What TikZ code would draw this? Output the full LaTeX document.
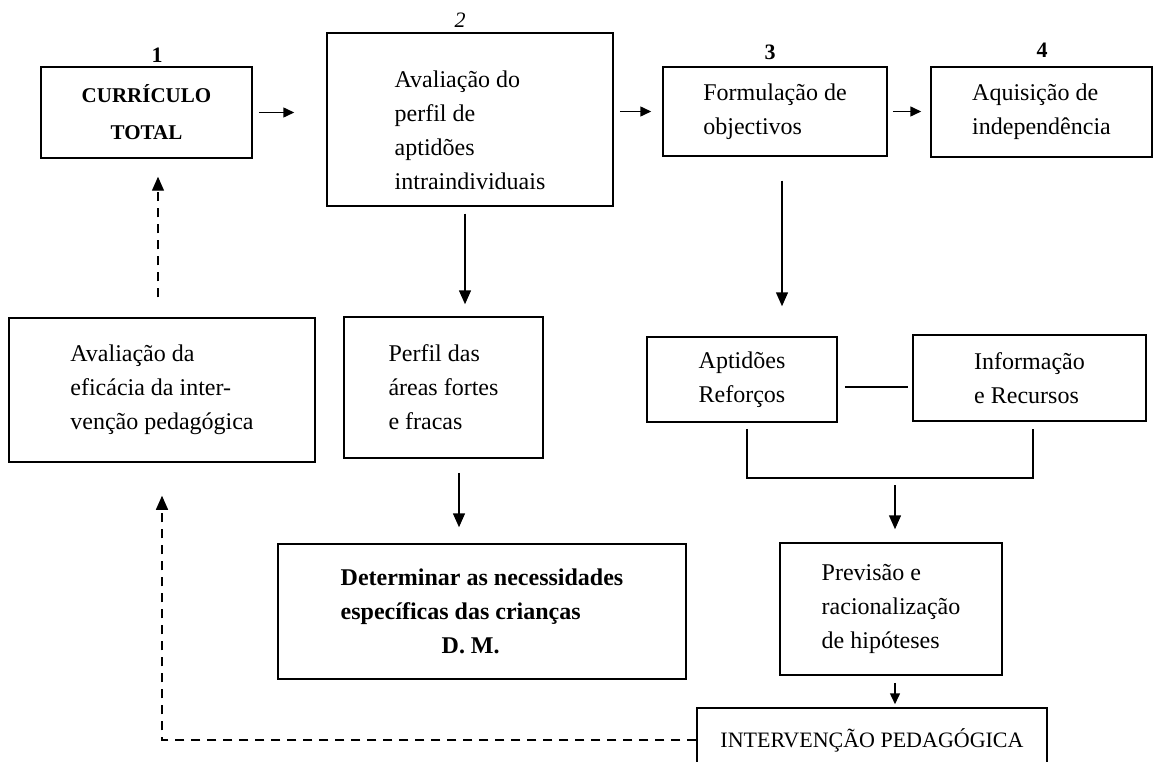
\documentclass[tikz,border=0pt]{standalone}
\usepackage{fontspec}
\setmainfont{Liberation Serif}
\usetikzlibrary{arrows.meta}
\begin{document}
\begin{tikzpicture}[x=1pt,y=-1pt,
  box/.style={draw, line width=1.5pt, rectangle, inner sep=0pt, align=left, font=\fontsize{24}{34}\selectfont},
  tip/.style={-{Triangle[length=11pt,width=10pt]}},
  bigtip/.style={-{Triangle[length=14pt,width=12pt]}},
  arr/.style={line width=1.5pt, tip},
  varr/.style={line width=1.5pt, bigtip},
  plain/.style={line width=1.4pt},
  dsh/.style={line width=1.3pt, dash pattern=on 9pt off 7pt},
  num/.style={font=\fontsize{22}{26}\selectfont\bfseries, inner sep=0pt}]
\useasboundingbox (0,0) rectangle (1156,762);
\clip (0,0) rectangle (1156,762);

% boxes
\node[box, minimum width=211pt, minimum height=91pt, align=center, font=\fontsize{21}{37}\selectfont\bfseries] (B1) at (146.5,112.5) {CURRÍCULO\\TOTAL};
\node[box, minimum width=286pt, minimum height=173pt] (B2) at (470,119.5) {\rule{0pt}{38pt}Avaliação do\\perfil de\\aptidões\\intraindividuais};
\node[box, minimum width=224pt, minimum height=89pt] (B3) at (775,111.5) {Formulação de\\objectivos};
\node[box, minimum width=221pt, minimum height=90pt] (B4) at (1041.5,112) {Aquisição de\\independência};
\node[box, minimum width=306pt, minimum height=144pt] (B5) at (162,390) {Avaliação da\\eficácia da inter-\\venção pedagógica};
\node[box, minimum width=199pt, minimum height=141pt] (B6) at (443.5,387.5) {Perfil das\\áreas fortes\\e fracas};
\node[box, minimum width=190pt, minimum height=85pt] (AR) at (742,379.5) {Aptidões\\Reforços};
\node[box, minimum width=233pt, minimum height=86pt] (IR) at (1029.5,378) {Informação\\e Recursos};
\node[box, minimum width=408pt, minimum height=135pt, font=\fontsize{24}{34}\selectfont\bfseries] (DN) at (482,611.5) {Determinar as necessidades\\específicas das crianças\\\hspace*{101pt}D. M.};
\node[box, minimum width=222pt, minimum height=132pt] (PR) at (891,609) {Previsão e\\racionalização\\de hipóteses};
\node[box, minimum width=350pt, minimum height=64pt, align=center, font=\fontsize{22}{26}\selectfont] (IP) at (872,740) {INTERVENÇÃO PEDAGÓGICA};

% numbers
\node[num] (n1) at (157,55) {1};
\node[num, font=\fontsize{22}{26}\selectfont\itshape] (n2) at (460,20) {2};
\node[num] (n3) at (770,52) {3};
\node[num] (n4) at (1042,50) {4};

% top row arrows
\draw[arr, shorten <=6pt, shorten >=32pt] (B1.east) -- (B1.east -| B2.west);
\draw[arr, shorten <=6pt, shorten >=11pt] (B2.east |- B3.west) -- (B3.west);
\draw[arr, shorten <=5pt, shorten >=9pt] (B3.east) -- (B3.east -| B4.west);

% vertical arrows
\draw[varr, shorten <=7pt, shorten >=12pt] ([xshift=-5pt]B2.south) -- ([xshift=-5pt]B2.south |- B6.north);
\draw[varr, shorten <=24pt, shorten >=30pt] ([xshift=7pt]B3.south) -- ([xshift=7pt]B3.south |- AR.north);
\draw[varr, shorten <=14pt, shorten >=16pt] ([xshift=15.5pt]B6.south) -- ([xshift=15.5pt]B6.south |- DN.north);

% link between Aptidoes and Informacao
\draw[plain, shorten <=7pt, shorten >=4pt] ([yshift=-7.5pt]AR.east) -- ([yshift=-7.5pt]AR.east -| IR.west);

% bracket joining both
\coordinate (jn) at (895,478);
\draw[plain] ([xshift=5pt,yshift=-6pt]AR.south) |- (jn) -| ([xshift=3.5pt,yshift=-7pt]IR.south);
\draw[varr, shorten <=7pt, shorten >=13pt] (jn) -- (jn |- PR.north);
\draw[arr, shorten <=7pt, shorten >=3pt] ([xshift=4pt]PR.south) -- ([xshift=4pt]PR.south |- IP.north);

% dashed feedback
\draw[dsh, bigtip, shorten >=33pt] (IP.west) -| (B5.south);
\draw[dsh, bigtip, shorten <=20pt, shorten >=18pt] ([xshift=-4pt]B5.north) -- ([xshift=-4pt]B5.north |- B1.south);
\end{tikzpicture}
\end{document}
